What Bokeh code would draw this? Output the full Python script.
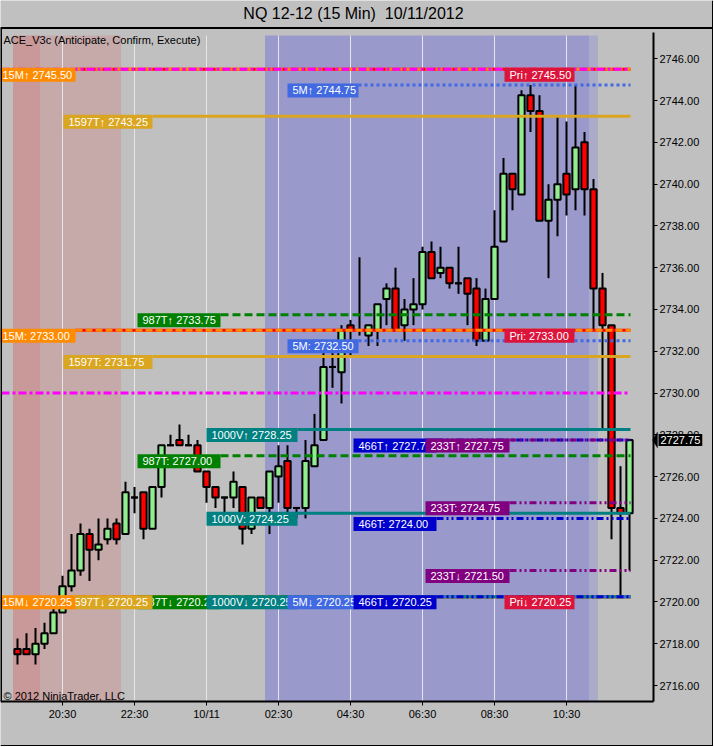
from bokeh.plotting import figure
from bokeh.models import Range1d, FixedTicker, Label, PolyAnnotation, ColumnDataSource, PrintfTickFormatter, Span
from bokeh.embed import file_html
from bokeh.resources import INLINE
from bokeh.core.properties import value

# ---------------- data ----------------
bar_index = list(range(-5, 64))   # 15-min bars, 0 = 20:30
open_ = [2717.75, 2717.75, 2717.50, 2718.00, 2718.50, 2719.50, 2720.75, 2721.50, 2723.25, 2722.50,
         2723.00, 2723.75, 2723.25, 2725.00, 2725.25, 2723.50, 2725.50, 2727.50, 2727.75, 2727.50,
         2727.50, 2726.25, 2725.50, 2725.00, 2725.00, 2725.50, 2723.50, 2725.00, 2724.50, 2726.00,
         2726.75, 2724.50, 2724.50, 2726.50, 2727.75, 2731.25, 2731.00, 2733.25, 2733.00, 2732.75,
         2733.00, 2734.50, 2735.00, 2733.25, 2734.00, 2734.25, 2736.75, 2735.75, 2736.00, 2735.25,
         2735.50, 2735.00, 2732.50, 2734.50, 2737.25, 2740.50, 2739.50, 2744.25, 2743.50, 2738.25,
         2739.25, 2740.50, 2739.75, 2742.00, 2739.75, 2735.00, 2733.25, 2724.50, 2724.25]
high = [2718.25, 2718.50, 2718.75, 2719.00, 2720.00, 2721.25, 2723.25, 2723.75, 2723.50, 2724.00,
        2724.00, 2724.00, 2725.75, 2725.50, 2725.25, 2725.50, 2727.50, 2728.00, 2728.50, 2728.00,
        2727.75, 2726.25, 2725.50, 2725.00, 2726.25, 2725.50, 2725.00, 2725.00, 2726.25, 2727.50,
        2727.50, 2724.50, 2727.75, 2729.00, 2732.25, 2732.25, 2733.25, 2733.50, 2736.50, 2733.25,
        2734.25, 2735.25, 2736.00, 2734.50, 2735.50, 2737.00, 2737.25, 2737.00, 2736.00, 2737.00,
        2735.50, 2735.50, 2735.00, 2738.75, 2741.25, 2740.50, 2744.50, 2744.75, 2744.25, 2740.00,
        2743.25, 2743.00, 2744.75, 2742.50, 2740.25, 2735.75, 2733.25, 2726.50, 2727.75]
low = [2717.00, 2717.50, 2717.00, 2717.75, 2718.50, 2719.50, 2720.50, 2721.25, 2721.00, 2722.00,
       2722.75, 2722.75, 2723.25, 2724.25, 2723.00, 2723.50, 2725.00, 2727.50, 2727.50, 2727.50,
       2726.25, 2724.75, 2724.50, 2724.25, 2724.50, 2722.75, 2723.25, 2724.50, 2723.25, 2724.75,
       2723.75, 2724.00, 2724.00, 2726.50, 2727.75, 2730.25, 2729.50, 2731.75, 2732.75, 2732.25,
       2732.25, 2733.25, 2733.00, 2732.50, 2733.25, 2734.00, 2735.50, 2735.50, 2735.00, 2734.75,
       2733.25, 2732.25, 2732.50, 2734.50, 2737.25, 2738.75, 2739.50, 2742.50, 2738.25, 2735.50,
       2737.50, 2738.50, 2738.75, 2738.50, 2733.00, 2728.25, 2723.00, 2720.25, 2721.50]
close = [2717.50, 2717.50, 2718.00, 2718.50, 2719.50, 2720.75, 2721.50, 2723.25, 2722.50, 2722.75,
         2723.50, 2723.00, 2725.25, 2725.00, 2723.50, 2725.50, 2727.50, 2727.50, 2727.50, 2727.50,
         2726.25, 2725.50, 2725.00, 2725.00, 2725.75, 2723.50, 2725.00, 2724.50, 2726.25, 2726.50,
         2724.50, 2724.50, 2726.75, 2727.50, 2731.25, 2731.25, 2733.00, 2733.00, 2733.00, 2733.25,
         2734.25, 2735.00, 2733.00, 2734.00, 2734.25, 2736.75, 2735.50, 2736.00, 2735.25, 2735.25,
         2734.75, 2732.50, 2734.50, 2737.00, 2740.50, 2739.75, 2744.25, 2743.50, 2738.25, 2739.25,
         2740.00, 2739.50, 2741.75, 2739.75, 2735.00, 2733.25, 2724.50, 2724.25, 2727.75]

x_tick_pos = [0, 8, 16, 24, 32, 40, 48, 56]
x_tick_labels = ["20:30", "22:30", "10/11", "02:30", "04:30", "06:30", "08:30", "10:30"]
y_ticks = [2716, 2718, 2720, 2722, 2724, 2726, 2728, 2730, 2732, 2734, 2736, 2738, 2740, 2742, 2744, 2746]

# level families, in the order their labels are stacked (bottom first)
families = ["987T", "1597T", "15M", "1000V", "5M", "466T", "233T", "Pri"]
level_up = [2733.75, 2743.25, 2745.50, 2728.25, 2744.75, 2727.75, 2727.75, 2745.50]
level_mid = [2727.00, 2731.75, 2733.00, 2724.25, 2732.50, 2724.00, 2724.75, 2733.00]
level_down = [2720.25, 2720.25, 2720.25, 2720.25, 2720.25, 2720.25, 2721.50, 2720.25]
pivot_levels = [2745.50, 2730.00]
last_price = 2727.75

# session shading (bar units)
band_start = [-5.5, -2.5, 22.5, 58.5]
band_end = [-2.5, 6.5, 58.5, 59.5]
band_colors = ["#C99898", "#C6A9A9", "#9999CC", "#AAAAC9"]

# ---------------- layout helpers (pixel -> data) ----------------
PXB = 9.0          # pixels per bar
PXP = 20.89        # pixels per point
def bx(px):
    return (px - 62.0) / PXB
def py(px):
    return 2746.0 - (px - 58.3) / PXP

FW, FH = 713, 746
X0, X1 = bx(0), bx(FW)
Y0, Y1 = py(FH), py(0)
CHART_BOTTOM = py(701)
TOP_BAND = py(35)
AX_X = bx(653)

style = {
    "15M":   dict(color="#FF8C00", dash="7 3", lab=(-3, 75), line_from=75),
    "5M":    dict(color="#4169E1", dash="3 3", lab=(287, 358), line_from=358),
    "1597T": dict(color="#DAA520", dash="solid", lab=(63, 152), line_from=152),
    "987T":  dict(color="#008000", dash="8 4", lab=(137, 220), line_from=220),
    "1000V": dict(color="#008080", dash="solid", lab=(206, 297), line_from=297),
    "466T":  dict(color="#0000CD", dash="7 3 2 3 2 3", lab=(353, 436), line_from=436),
    "233T":  dict(color="#800080", dash="7 3 2 3 2 3", lab=(425, 509), line_from=509),
    "Pri":   dict(color="#DC143C", dash="solid", lab=(504, 574), line_from=75),
}
line_colors = {"Pri": "#FF0000"}
line_order = ["Pri", "15M", "1597T", "987T", "1000V", "5M", "466T", "233T"]
X_END = bx(630)

p = figure(frame_width=FW, frame_height=FH,
           x_range=Range1d(X0, X1), y_range=Range1d(Y0, Y1),
           y_axis_location="right", output_backend="svg", toolbar_location=None,
           min_border_left=0, min_border_right=0, min_border_top=0, min_border_bottom=0,
           background_fill_color="#C0C0C0", border_fill_color="#C0C0C0")
p.xgrid.visible = False
p.ygrid.visible = False
p.outline_line_color = None

# bands
p.quad(left=band_start, right=band_end, top=[TOP_BAND] * len(band_start),
       bottom=[CHART_BOTTOM] * len(band_start), fill_color=band_colors, line_color=None)
# vertical grid lines
p.segment(x0=x_tick_pos, x1=x_tick_pos, y0=[CHART_BOTTOM] * len(x_tick_pos), y1=[TOP_BAND] * len(x_tick_pos),
          line_color="#E6E6E6", line_width=1)

# candles
tops = [max(o, c) for o, c in zip(open_, close)]
bots = [min(o, c) for o, c in zip(open_, close)]
cols = ["#90EE90" if c >= o else "#FF0000" for o, c in zip(open_, close)]
src = ColumnDataSource(dict(x=bar_index, h=high, l=low, top=tops, bottom=bots, color=cols))
p.segment(x0="x", x1="x", y0="l", y1="h", source=src, line_color="black", line_width=2)
p.vbar(x="x", width=0.7, top="top", bottom="bottom", fill_color="color",
       line_color="black", line_width=2, source=src)
dx = [x for x, o, c in zip(bar_index, open_, close) if o == c]
dy = [c for o, c in zip(open_, close) if o == c]
p.segment(x0=[x - 0.39 for x in dx], x1=[x + 0.39 for x in dx], y0=dy, y1=dy,
          line_color="black", line_width=2)

# level lines
fam_levels = {f: (u, m, d) for f, u, m, d in zip(families, level_up, level_mid, level_down)}
for f in line_order:
    st = style[f]
    ys = list(fam_levels[f])
    x0 = bx(st["line_from"])
    color = line_colors.get(f, st["color"])
    p.segment(x0=[x0] * 3, x1=[X_END] * 3, y0=ys, y1=ys, line_color=color,
              line_width=3, line_dash=st["dash"])
p.segment(x0=[bx(1)] * len(pivot_levels), x1=[bx(628)] * len(pivot_levels), y0=pivot_levels, y1=pivot_levels,
          line_color="#FF00FF", line_width=3, line_dash="8 3 3 3")

# level labels
BOX_H = 14.0 / PXP
for f in families:
    st = style[f]
    u, m, d = fam_levels[f]
    texts = [f"{f}\u2191 {u:.2f}", f"{f}: {m:.2f}", f"{f}\u2193 {d:.2f}"]
    ys = [u, m, d]
    tops_l = [y + 1.5 / PXP for y in ys]
    bots_l = [t - BOX_H for t in tops_l]
    l0, l1 = st["lab"]
    p.quad(left=[bx(l0)] * 3, right=[bx(l1)] * 3, top=tops_l, bottom=bots_l,
           fill_color=st["color"], line_color=None)
    p.text(x=[bx(l0 + 5)] * 3, y=[(a + b) / 2 for a, b in zip(tops_l, bots_l)], text=texts,
           text_font=value("Liberation Sans"), text_font_size="11px", text_color="white",
           text_baseline="middle", text_align="left")

# panel borders
p.segment(x0=[bx(0.5)], x1=[bx(0.5)], y0=[CHART_BOTTOM], y1=[py(27)], line_color="black", line_width=2)
p.segment(x0=[bx(712.5)], x1=[bx(712.5)], y0=[Y0], y1=[Y1], line_color="black", line_width=2)
p.segment(x0=[X0], x1=[X1], y0=[py(745.5)], y1=[py(745.5)], line_color="black", line_width=2)
p.add_layout(Span(location=py(27.5), dimension="width", line_color="black", line_width=2))

# axes
p.xaxis.ticker = FixedTicker(ticks=x_tick_pos)
p.xaxis.major_label_overrides = {t: s for t, s in zip(x_tick_pos, x_tick_labels)}
p.xaxis.bounds = (X0, AX_X)
p.xaxis.fixed_location = CHART_BOTTOM
p.yaxis.ticker = FixedTicker(ticks=y_ticks)
p.yaxis.formatter = PrintfTickFormatter(format="%.2f")
p.yaxis.fixed_location = AX_X
p.yaxis.bounds = (CHART_BOTTOM, py(32))
for ax in (p.xaxis, p.yaxis):
    ax.axis_line_color = "black"
    ax.axis_line_width = 2
    ax.major_tick_line_color = "black"
    ax.major_tick_out = 4
    ax.major_tick_in = 0
    ax.minor_tick_line_color = None
    ax.major_label_text_font = "Liberation Sans"
    ax.major_label_text_font_size = "11px"
    ax.major_label_text_color = "black"
    ax.major_label_standoff = 2

# texts
p.add_layout(Label(x=bx(353), y=py(13), text="NQ 12-12 (15 Min)\u00a0 10/11/2012", text_align="center",
                   text_baseline="middle", text_font="Liberation Sans", text_font_size="16px",
                   text_color="black"))
p.add_layout(Label(x=bx(3), y=py(39.5), text="ACE_V3c (Anticipate, Confirm, Execute)",
                   text_baseline="middle", text_font="Liberation Sans", text_font_size="11px",
                   text_color="black"))
p.add_layout(Label(x=bx(3), y=py(695), text="\u00a9 2012 NinjaTrader, LLC",
                   text_baseline="middle", text_font="Liberation Sans", text_font_size="11px",
                   text_color="black"))

# last price marker on the price axis
p.add_layout(PolyAnnotation(xs=[bx(652), bx(657), bx(657)],
                            ys=[last_price, last_price + 8 / PXP, last_price - 8 / PXP],
                            fill_color="black", fill_alpha=1.0, line_color="black"))
p.add_layout(Label(x=bx(658), y=last_price, text=f"{last_price:.2f}", text_baseline="middle",
                   text_font="Liberation Sans", text_font_size="11px", text_color="white",
                   background_fill_color="black", padding=2))

open("out.html", "w").write(file_html(p, INLINE))
